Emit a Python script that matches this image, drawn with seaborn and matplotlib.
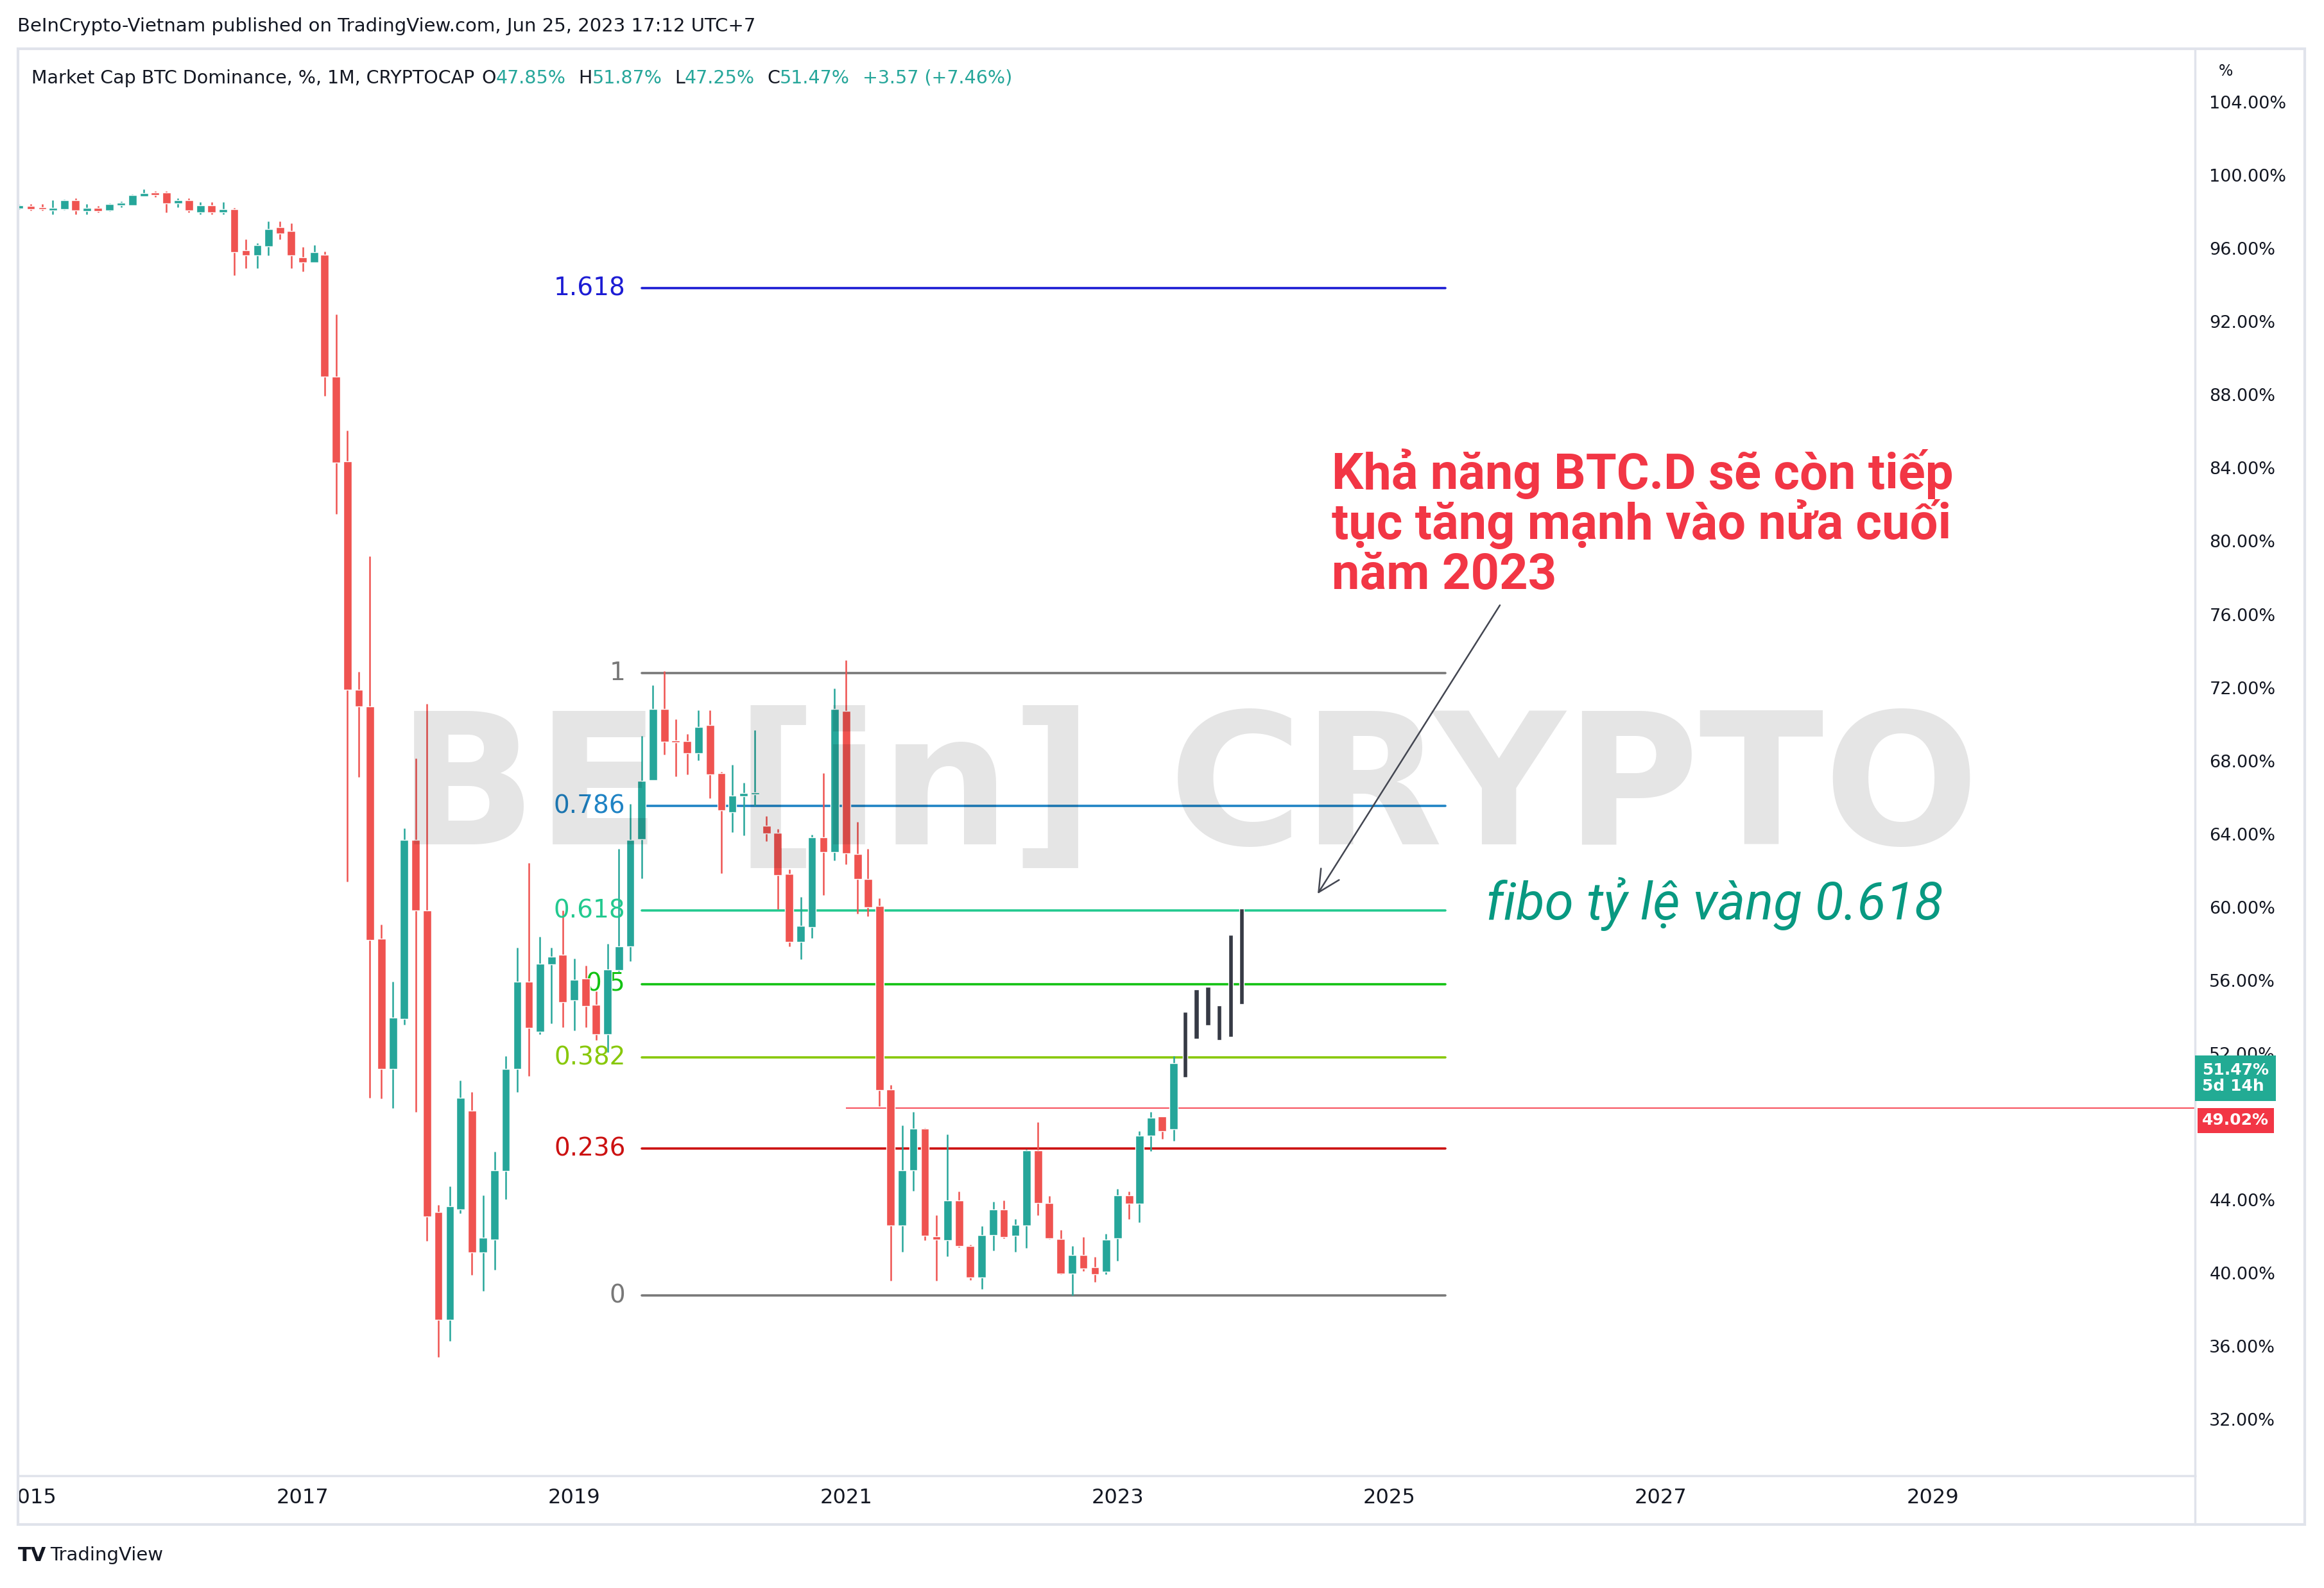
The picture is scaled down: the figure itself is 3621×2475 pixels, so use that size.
import numpy as np
import pandas as pd
import seaborn as sns
import matplotlib.pyplot as plt
from matplotlib.transforms import blended_transform_factory
from matplotlib.lines import Line2D
from matplotlib.patches import Rectangle

# monthly BTC dominance candles, Dec 2014 .. Jun 2023
first_month = "2014-12-01"
opens = [98.17, 98.32, 98.26, 98.09, 98.14, 98.64, 98.05, 98.23, 98.06, 98.36, 98.36, 98.85, 99.04,
         99.04, 98.46, 98.64, 97.95, 98.34, 97.95, 98.14, 95.89, 95.61, 96.12, 97.15, 96.95,
         95.51, 95.22, 95.65, 88.98, 84.38, 71.89, 70.98, 58.27, 51.16, 53.89, 63.68, 59.83,
         43.33, 37.45, 43.49, 48.88, 41.14, 41.83, 45.59, 51.16, 55.92, 53.20, 56.88, 57.41,
         54.90, 56.12, 54.65, 53.04, 56.57, 57.84, 63.70, 66.95, 70.83, 69.10, 69.07, 68.42,
         69.95, 67.32, 65.17, 66.07, 66.15, 64.45, 64.06, 61.81, 58.11, 58.91, 63.80, 63.01,
         70.73, 62.89, 61.53, 60.05, 50.04, 42.61, 45.61, 47.90, 42.00, 41.79, 43.96, 41.50,
         39.78, 42.09, 43.47, 42.04, 42.61, 46.72, 43.84, 41.87, 39.99, 41.00, 40.32, 40.07,
         41.92, 44.25, 43.81, 47.53, 48.56, 47.85]
highs = [98.40, 98.44, 98.44, 98.64, 98.66, 98.75, 98.44, 98.32, 98.46, 98.55, 98.95, 99.23, 99.14,
         99.11, 98.73, 98.75, 98.53, 98.53, 98.53, 98.23, 96.48, 96.27, 97.47, 97.47, 97.36,
         96.08, 96.19, 95.82, 92.39, 86.05, 72.86, 79.18, 59.05, 55.92, 64.31, 68.13, 71.10,
         43.74, 44.74, 50.53, 49.91, 44.27, 46.62, 51.85, 57.80, 62.43, 58.38, 57.80, 59.83,
         57.20, 56.82, 55.40, 58.00, 63.18, 65.63, 69.36, 72.13, 72.89, 70.26, 69.46, 70.76,
         70.76, 67.40, 67.79, 66.80, 69.67, 64.97, 64.27, 62.07, 60.54, 63.95, 67.32, 71.94,
         73.50, 64.67, 63.20, 60.50, 50.28, 48.07, 48.81, 47.95, 43.15, 47.58, 44.45, 41.55,
         42.58, 43.89, 43.96, 42.97, 46.79, 48.26, 44.21, 42.36, 41.47, 41.97, 40.88, 42.16,
         44.62, 44.45, 47.77, 48.81, 48.56, 51.87]
lows = [98.14, 98.06, 98.06, 97.85, 98.12, 97.85, 97.85, 97.95, 98.04, 98.24, 98.34, 98.84, 98.82,
        97.95, 98.24, 97.95, 97.85, 97.85, 97.85, 94.52, 94.91, 94.91, 95.61, 96.48, 94.91,
        94.73, 95.22, 87.93, 81.49, 61.40, 67.13, 49.59, 49.53, 49.03, 53.57, 48.81, 41.77,
        35.41, 36.29, 43.27, 39.89, 39.04, 40.20, 44.05, 49.91, 50.78, 53.05, 53.64, 53.44,
        53.25, 53.44, 52.75, 52.08, 56.50, 57.06, 61.58, 66.95, 68.34, 67.16, 67.24, 68.02,
        65.96, 61.84, 64.11, 63.91, 65.52, 63.61, 59.88, 57.85, 57.14, 58.32, 60.67, 62.54,
        62.34, 59.63, 59.50, 49.13, 39.58, 41.18, 44.50, 41.79, 39.58, 40.93, 41.42, 39.63,
        39.14, 41.25, 41.92, 41.18, 41.38, 43.15, 41.87, 39.95, 38.79, 40.12, 39.53, 39.95,
        40.69, 42.95, 42.78, 46.67, 47.33, 47.25]
closes = [98.36, 98.14, 98.14, 98.23, 98.64, 98.09, 98.23, 98.05, 98.44, 98.47, 98.93, 99.02, 98.90,
          98.46, 98.64, 98.06, 98.34, 97.95, 98.14, 95.81, 95.61, 96.18, 97.07, 96.80, 95.61,
          95.22, 95.81, 89.00, 84.31, 71.89, 70.98, 58.20, 51.16, 53.98, 63.68, 59.83, 43.11,
          37.45, 43.65, 49.59, 41.14, 41.93, 45.62, 51.16, 55.92, 53.41, 56.90, 57.28, 54.80,
          56.02, 54.61, 53.04, 56.59, 57.85, 63.69, 66.91, 70.83, 69.04, 69.00, 68.42, 69.85,
          67.24, 65.28, 66.11, 66.23, 66.25, 64.03, 61.76, 58.11, 58.98, 63.80, 63.01, 70.84,
          62.94, 61.55, 60.00, 49.99, 42.61, 45.61, 47.90, 42.04, 41.85, 43.96, 41.50, 39.78,
          42.09, 43.47, 41.99, 42.65, 46.72, 43.84, 41.90, 39.98, 41.00, 40.27, 39.95, 41.84,
          44.25, 43.81, 47.53, 48.51, 47.77, 51.47]

# hand-drawn projection bars for Jul..Dec 2023
proj_month = "2023-07-01"
proj_low = [50.70, 52.82, 53.53, 52.74, 52.92, 54.71]
proj_high = [54.27, 55.52, 55.65, 54.64, 58.48, 59.93]

# fibonacci retracement tool
fib_low, fib_high = 38.78, 72.80
fib_ratios = [0, 0.236, 0.382, 0.5, 0.618, 0.786, 1, 1.618]
fib_labels = ["0", "0.236", "0.382", "0.5", "0.618", "0.786", "1", "1.618"]
fib_colors = ["#787878", "#cc1111", "#88c80a", "#12c212", "#22c98f", "#1f83c4", "#787878", "#1c1cd4"]
fib_start, fib_end = "2019-07-01", "2025-06-01"

prev_close = 49.02
year_labels = ["2015", "2017", "2019", "2021", "2023", "2025", "2027", "2029"]
price_ticks = list(range(32, 105, 4))

note_lines = ["Khả năng BTC.D sẽ còn tiếp", "tục tăng mạnh vào nửa cuối", "năm 2023"]

TEAL = "#26a69a"
RED = "#ef5350"
TXT = "#131722"
BORDER = "#e0e3eb"

sns.set_theme(style="white")
plt.rcParams["font.family"] = ["DejaVu Sans"]

df = pd.DataFrame({"date": pd.date_range(first_month, periods=len(opens), freq="MS"),
                   "open": opens, "high": highs, "low": lows, "close": closes})
df["up"] = df["close"] >= df["open"]
df["color"] = np.where(df["up"], TEAL, RED)
df["body_lo"] = df[["open", "close"]].min(axis=1)
df["body_h"] = np.maximum((df["close"] - df["open"]).abs(), 0.12)

fig = plt.figure(figsize=(36.21, 24.75), dpi=100)
ax = fig.add_axes([0.00765, 0.0707, 0.9445 - 0.00765, 0.9692 - 0.0707])
x_left, x_right = pd.Timestamp("2014-11-27"), pd.Timestamp("2030-12-07")

# fib levels drawn with seaborn from a long table
fib_rows = []
for r, lab in zip(fib_ratios, fib_labels):
    lvl = fib_low + r * (fib_high - fib_low)
    for d in (fib_start, fib_end):
        fib_rows.append({"date": pd.Timestamp(d), "value": lvl, "level": lab})
fib_df = pd.DataFrame(fib_rows)
sns.lineplot(data=fib_df, x="date", y="value", hue="level", palette=dict(zip(fib_labels, fib_colors)),
             estimator=None, sort=False, linewidth=2.6, legend=False, ax=ax, zorder=1)
for r, lab, c in zip(fib_ratios, fib_labels, fib_colors):
    lvl = fib_low + r * (fib_high - fib_low)
    ax.annotate(lab, xy=(pd.Timestamp(fib_start), lvl), xytext=(-18, 0), textcoords="offset points",
                ha="right", va="center", color=c, fontsize=28)

# last-price line
ax.hlines(prev_close, pd.Timestamp("2021-01-01"), x_right, color="#f7525f", lw=1.5, zorder=1)

# candles
ax.vlines(df["date"], df["low"], df["high"], color=df["color"], lw=1.8, zorder=2)
ax.bar(df["date"], df["body_h"], bottom=df["body_lo"], width=22, color=df["color"], zorder=3)

# projection bars
proj_dates = pd.date_range(proj_month, periods=len(proj_low), freq="MS")
ax.bar(proj_dates, np.array(proj_high) - np.array(proj_low), bottom=proj_low, width=12.5,
       color="#363a45", zorder=3)

ax.set_xlim(x_left, x_right)
ax.set_ylim(28.93, 106.9)
ax.set_xlabel("")
ax.set_ylabel("")

ax.set_xticks(pd.to_datetime([f"{y}-01-01" for y in year_labels]))
ax.set_xticklabels(year_labels)
ax.tick_params(axis="x", length=0, pad=14, labelsize=23, colors=TXT)
ax.yaxis.tick_right()
ax.set_yticks(price_ticks)
# 48% sits under the last-price tag on the original, so its label is hidden there
ax.set_yticklabels(["" if v == 48 else f"{v:.2f}%" for v in price_ticks])
ax.tick_params(axis="y", length=0, pad=16, labelsize=19.5, colors=TXT)
ax.grid(False)
for s in ("top", "left"):
    ax.spines[s].set_visible(False)
for s in ("right", "bottom"):
    ax.spines[s].set_color(BORDER)
    ax.spines[s].set_linewidth(2.5)

# watermark
for txt, xf in (("BE", 0.2349), ("[in]", 0.4119), ("CRYPTO", 0.7148)):
    ax.text(xf, 0.478, txt, transform=ax.transAxes, ha="center", va="center", fontsize=205,
            fontweight="bold", color="black", alpha=0.1, zorder=5)

# comments drawn on the chart
for line, yb in zip(note_lines, (0.6914, 0.6566, 0.6216)):
    ax.text(0.6035, yb, line, transform=ax.transAxes, ha="left", va="baseline", color="#f23645",
            fontsize=56, family="Roboto", fontweight="bold", zorder=6)
ax.annotate("", xy=(pd.Timestamp("2024-06-22"), 60.73), xytext=(pd.Timestamp("2025-10-25"), 76.5),
            arrowprops=dict(arrowstyle="->,head_length=0.6,head_width=0.3", color="#434651",
                            lw=1.8, mutation_scale=40, shrinkA=0, shrinkB=0), zorder=6)
ax.text(0.6743, 0.3899, "fibo tỷ lệ vàng 0.618", transform=ax.transAxes, ha="left", va="baseline",
        color="#089981", fontsize=59, family="Roboto", fontstyle="italic", zorder=6)

# price labels on the right scale
blend = blended_transform_factory(ax.transAxes, ax.transData)
ax.annotate(f"{closes[-1]:.2f}%\n5d 14h", xy=(1, closes[-1]), xycoords=blend, xytext=(8, -17),
            textcoords="offset points", ha="left", va="center", fontsize=18, color="white",
            fontweight="bold", linespacing=1.05, annotation_clip=False, zorder=10,
            bbox=dict(boxstyle="square,pad=0.45", fc="#22ab94", ec="none"))
ax.annotate(f"{prev_close:.2f}%", xy=(1, prev_close), xycoords=blend, xytext=(8, -14),
            textcoords="offset points", ha="left", va="center", fontsize=18, color="white",
            fontweight="bold", annotation_clip=False, zorder=10,
            bbox=dict(boxstyle="square,pad=0.3", fc="#f23645", ec="none"))

# panel frame
panel = Rectangle((0.00765, 0.04), 0.9917 - 0.00765, 0.9692 - 0.04, transform=fig.transFigure,
                  fill=False, ec=BORDER, lw=3)
fig.add_artist(panel)
fig.add_artist(Line2D([0.9445, 0.9445], [0.04, 0.0707], transform=fig.transFigure, color=BORDER, lw=2.5))
clip_rect = Rectangle((0.00765, 0.0), 0.99, 1.0, transform=fig.transFigure)
for lbl in ax.get_xticklabels():
    lbl.set_clip_on(True)
    lbl.set_clip_path(clip_rect)

# header texts
fig.text(0.0075, 0.9802, "BeInCrypto-Vietnam published on TradingView.com, Jun 25, 2023 17:12 UTC+7",
         fontsize=21, color=TXT, va="baseline")
parts = [("Market Cap BTC Dominance, %, 1M, CRYPTOCAP", TXT, 0), ("O", TXT, 8), ("47.85%", TEAL, 0),
         ("H", TXT, 14), ("51.87%", TEAL, 0), ("L", TXT, 14), ("47.25%", TEAL, 0),
         ("C", TXT, 14), ("51.47%", TEAL, 0), ("+3.57 (+7.46%)", TEAL, 14)]
t = fig.text(0.0135, 0.9475, parts[0][0], fontsize=20.5, color=parts[0][1], va="baseline")
for s, c, gap in parts[1:]:
    t = ax.annotate(s, xy=(1, 0), xycoords=t, xytext=(gap, 0), textcoords="offset points",
                    va="bottom", fontsize=20.5, color=c, annotation_clip=False)
fig.text(0.9547, 0.955, "%", fontsize=17, color=TXT, va="center")

# footer logo
logo = fig.text(0.0077, 0.0205, "TV", fontsize=22, fontweight="heavy", color=TXT, va="center")
ax.annotate("TradingView", xy=(1, 0.5), xycoords=logo, xytext=(4, 0), textcoords="offset points",
            va="center", fontsize=21, color=TXT, annotation_clip=False)

fig.savefig("out.png", dpi=100, facecolor="white")
